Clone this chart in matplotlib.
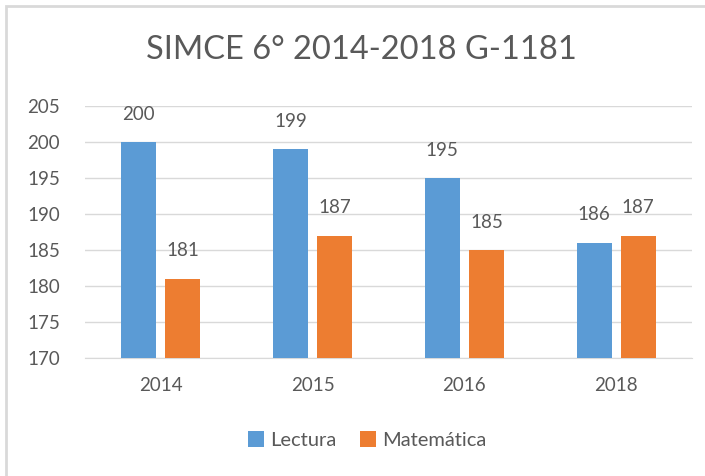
import numpy as np
from matplotlib import pyplot as plt
from matplotlib.patches import Rectangle

plt.rcParams['font.family'] = ['Lato', 'DejaVu Sans']

years = ["2014", "2015", "2016", "2018"]
lectura = [200, 199, 195, 186]
matematica = [181, 187, 185, 187]

blue = "#5B9BD5"
orange = "#ED7D31"
txt = "#595959"

fig = plt.figure(figsize=(7.05, 4.76), dpi=100)
# light border of the chart area
fig.patches.append(Rectangle((6/705, -0.1), 1.1, 1.1 - 6/476, transform=fig.transFigure,
                             fill=False, edgecolor="#D9D9D9", linewidth=2))
ax = fig.add_axes([85/705, 1 - 358/476, (692-85)/705, (358-106)/476])

x = np.arange(len(years))
w = 0.23
b1 = ax.bar(x - 0.03 - w/2, np.array(lectura) - 170, w, bottom=170, color=blue, zorder=3)
b2 = ax.bar(x + 0.03 + w/2, np.array(matematica) - 170, w, bottom=170, color=orange, zorder=3)

for xs, vals in [(x - 0.03 - w/2, lectura), (x + 0.03 + w/2, matematica)]:
    for xi, v in zip(xs, vals):
        ax.annotate(str(v), (xi, v), xytext=(0, 14), textcoords="offset points",
                    ha="center", va="bottom", fontsize=13.5, color=txt)

ax.set_ylim(170, 205)
ax.set_xlim(-0.5, 3.5)
ax.set_yticks(range(170, 206, 5))
ax.set_xticks(x)
ax.set_xticklabels(years)
ax.tick_params(length=0, labelsize=13.5, labelcolor=txt)
ax.tick_params(axis="x", pad=14)
ax.tick_params(axis="y", pad=18)
ax.grid(axis="y", color="#D9D9D9", linewidth=1, zorder=0)
for s in ["top", "right", "left"]:
    ax.spines[s].set_visible(False)
ax.spines["bottom"].set_color("#D9D9D9")

fig.text(361/705, 1 - 50/476, "SIMCE 6° 2014-2018 G-1181", ha="center", va="center",
         fontsize=23.5, color=txt)

fig.legend([b1, b2], ["Lectura", "Matemática"], loc="center", bbox_to_anchor=(367/705, 1 - 440/476),
           ncol=2, frameon=False, fontsize=14.5, labelcolor=txt, handlelength=0.8, handleheight=0.8,
           handletextpad=0.3, columnspacing=1.2)

plt.savefig("out.png", dpi=100)
